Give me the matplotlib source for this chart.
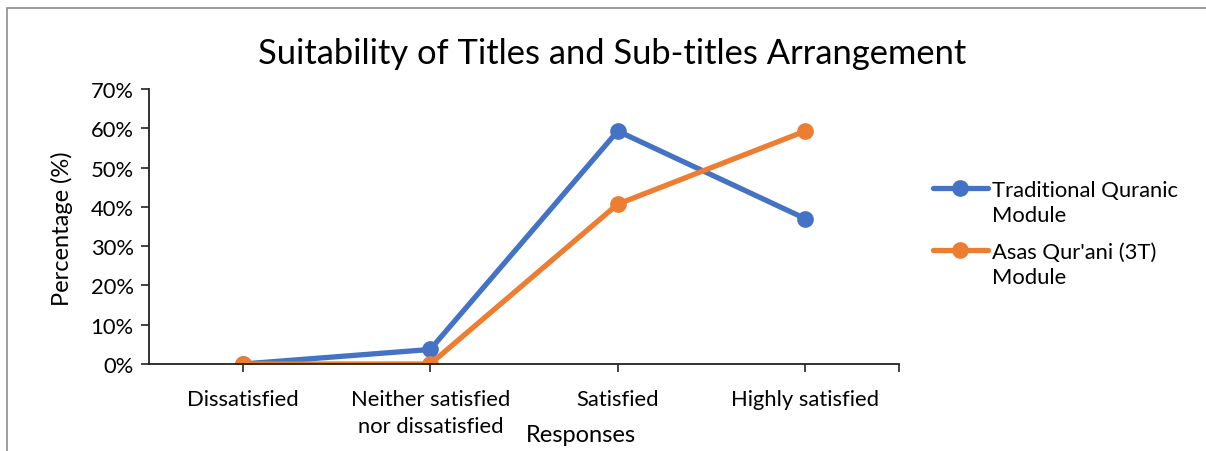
import matplotlib.pyplot as plt
from matplotlib.patches import Rectangle
from matplotlib.ticker import PercentFormatter

# Data
categories = ["Dissatisfied", "Neither satisfied\nnor dissatisfied", "Satisfied", "Highly satisfied"]
traditional = [0.0, 3.7, 59.3, 37.0]
asas = [0.0, 0.0, 40.7, 59.3]
series_names = ["Traditional Quranic\nModule", "Asas Qur'ani (3T)\nModule"]

plt.rcParams['font.family'] = ['Lato', 'DejaVu Sans']

W, H = 1206, 452
fig = plt.figure(figsize=(W / 100, H / 100), dpi=100)
ax = fig.add_axes([149 / W, 1 - 365 / H, (899 - 149) / W, (365 - 90) / H])

x = range(len(categories))
ax.plot(x, traditional, color="#4472C4", lw=3.8, marker="o", ms=11,
        label=series_names[0], solid_capstyle="round")
ax.plot(x, asas, color="#ED7D31", lw=3.8, marker="o", ms=11,
        label=series_names[1], solid_capstyle="round")

ax.set_xlim(-0.5, 3.5)
ax.set_ylim(0, 70)
ax.set_yticks(range(0, 71, 10))
ax.yaxis.set_major_formatter(PercentFormatter(decimals=0))
ax.set_xticks(list(x))
ax.set_xticklabels(categories, linespacing=1.45)
ax.set_xticks([3.5], minor=True)
ax.tick_params(axis="both", which="both", direction="out", length=6, width=1.2,
               labelsize=15.8, color="#222222")
ax.tick_params(axis="x", pad=12)
ax.tick_params(axis="y", pad=5)

for side in ["top", "right"]:
    ax.spines[side].set_visible(False)
for side in ["left", "bottom"]:
    ax.spines[side].set_linewidth(1.3)
    ax.spines[side].set_color("#222222")

ax.set_xlabel("Responses", fontsize=17)
ax.xaxis.set_label_coords((581 - 149) / 750, -(436 - 365) / 275)
ax.xaxis.label.set_va("center")
ax.set_ylabel("Percentage (%)", fontsize=17)
ax.yaxis.set_label_coords((62 - 149) / 750, (365 - 229) / 275)
ax.yaxis.label.set_va("center")

fig.text(612 / W, 1 - 54 / H, "Suitability of Titles and Sub-titles Arrangement",
         ha="center", va="center", fontsize=24.8)

leg = ax.legend(loc="upper left", bbox_to_anchor=(924 / W, 1 - 172 / H),
                bbox_transform=fig.transFigure, frameon=False, fontsize=15.8,
                handlelength=2.5, handletextpad=0.2, labelspacing=0.75, borderaxespad=0)
for t in leg.get_texts():
    t.set_linespacing(1.35)
# move handles up to sit beside the first line of each label
for h in leg.legend_handles:
    h.set_ydata([y + 10.5 for y in h.get_ydata()])

# chart frame
fig.add_artist(Rectangle((7 / W, -0.1), 1.2, 1.1 - 9 / H, transform=fig.transFigure,
                         fill=False, edgecolor="#8c8c8c", lw=1.2))

fig.savefig("out.png", dpi=100)
